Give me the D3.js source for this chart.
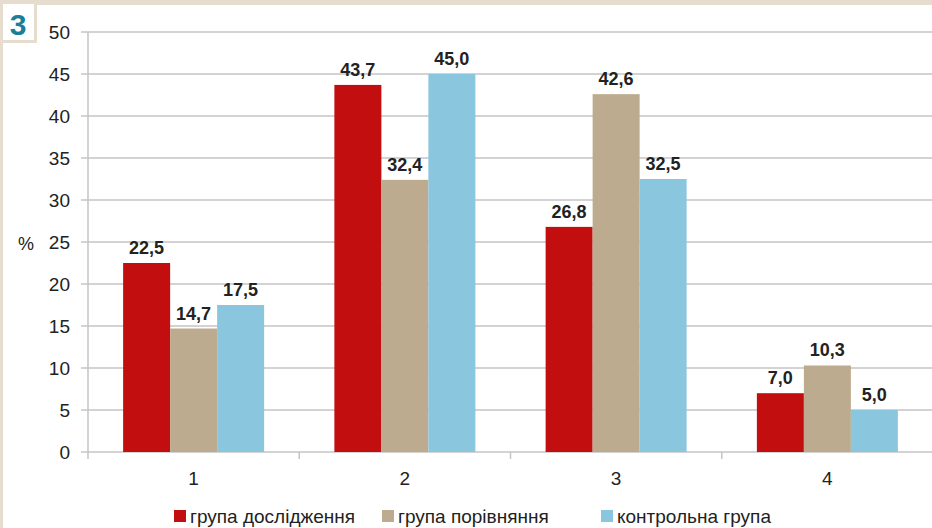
<!DOCTYPE html>
<html><head><meta charset="utf-8">
<script src="https://cdn.jsdelivr.net/npm/d3@7"></script>
<style>
html,body{margin:0;padding:0;background:#fff;}
svg{display:block;font-family:"Liberation Sans",Arial,sans-serif;}
</style></head>
<body><svg id="c" width="932" height="528"></svg>
<script>
const categories = ["1","2","3","4"];
const seriesNames = ["група дослідження","група порівняння","контрольна група"];
const seriesColors = ["#C20E0E","#BCAB8E","#8BC6DF"];
const studyGroup = [22.5, 43.7, 26.8, 7.0];
const comparisonGroup = [14.7, 32.4, 42.6, 10.3];
const controlGroup = [17.5, 45.0, 32.5, 5.0];
const yTicks = [0,5,10,15,20,25,30,35,40,45,50];
const series = [studyGroup, comparisonGroup, controlGroup];

const svg = d3.select("#c");
const W = 932, H = 528;
const beige = "#E7DDCF";

// frame
svg.append("rect").attr("x",0).attr("y",0).attr("width",W).attr("height",5).attr("fill",beige);
svg.append("rect").attr("x",0).attr("y",0).attr("width",3).attr("height",H).attr("fill",beige);
svg.append("rect").attr("x",1.5).attr("y",2.5).attr("width",34).attr("height",39).attr("fill","#fff").attr("stroke",beige).attr("stroke-width",3);
svg.append("text").attr("x",18).attr("y",35).attr("text-anchor","middle")
  .attr("font-size",30).attr("font-weight","bold").attr("fill","#1A7E99").text("3");

const x0 = 88, x1 = 933, yTop = 32, yBot = 452;
const x = d3.scaleBand().domain(categories).range([x0,x1]).paddingInner(0).paddingOuter(0);
const y = d3.scaleLinear().domain([0,50]).range([yBot,yTop]);
const inner = 47;
const groupW = inner*3;

// gridlines
svg.append("g").selectAll("line").data(yTicks).join("line")
  .attr("x1",x0-7).attr("x2",W).attr("y1",d=>y(d)).attr("y2",d=>y(d))
  .attr("stroke","#C4C4C4").attr("stroke-width",1.5);

// y axis line
svg.append("line").attr("x1",x0).attr("x2",x0).attr("y1",yTop).attr("y2",yBot+7)
  .attr("stroke","#C4C4C4").attr("stroke-width",1.5);

// x ticks
const bounds = categories.map(c=>x(c)).concat([x1]);
svg.append("g").selectAll("line").data(bounds.slice(1)).join("line")
  .attr("x1",d=>d).attr("x2",d=>d).attr("y1",yBot).attr("y2",yBot+7)
  .attr("stroke","#C4C4C4").attr("stroke-width",1.5);

// y labels
svg.append("g").selectAll("text").data(yTicks).join("text")
  .attr("x",70).attr("y",d=>y(d)+7).attr("text-anchor","end")
  .attr("font-size",19).attr("fill","#222").text(d=>d);
svg.append("text").attr("x",26).attr("y",250).attr("text-anchor","middle")
  .attr("font-size",18).attr("fill","#222").text("%");

// x labels
svg.append("g").selectAll("text").data(categories).join("text")
  .attr("x",d=>x(d)+x.bandwidth()/2).attr("y",485).attr("text-anchor","middle")
  .attr("font-size",19).attr("fill","#222").text(d=>d);

const xs = d3.scaleBand().domain(d3.range(3)).range([0,groupW]);
const fmt = v => v.toFixed(1).replace(".",",");

series.forEach((vals,si)=>{
  const g = svg.append("g");
  g.selectAll("rect").data(vals).join("rect")
    .attr("x",(d,i)=>x(categories[i])+(x.bandwidth()-groupW)/2+xs(si))
    .attr("width",xs.bandwidth())
    .attr("y",d=>y(d)).attr("height",d=>yBot-y(d))
    .attr("fill",seriesColors[si]);
  g.selectAll("text").data(vals).join("text")
    .attr("x",(d,i)=>x(categories[i])+(x.bandwidth()-groupW)/2+xs(si)+xs.bandwidth()/2)
    .attr("y",d=>y(d)-9).attr("text-anchor","middle")
    .attr("font-size",18).attr("font-weight","bold").attr("fill","#222").text(fmt);
});

// legend
const legX = [174, 382, 601];
const lg = svg.append("g");
seriesNames.forEach((n,i)=>{
  lg.append("rect").attr("x",legX[i]).attr("y",510).attr("width",12).attr("height",12).attr("fill",seriesColors[i]);
  lg.append("text").attr("x",legX[i]+16).attr("y",523).attr("font-size",19).attr("fill","#222").text(n);
});
</script></body></html>
